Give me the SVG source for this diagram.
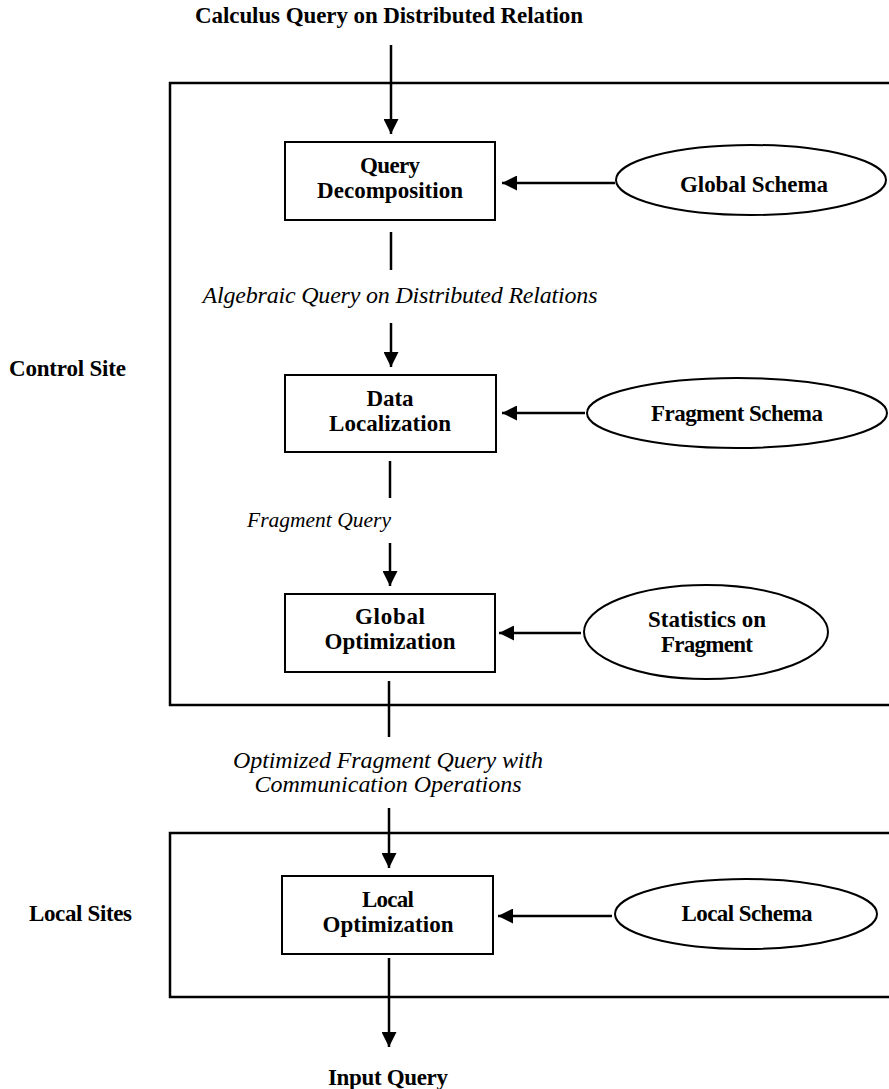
<svg xmlns="http://www.w3.org/2000/svg" width="889" height="1089" viewBox="0 0 889 1089">
<style>
.frame{fill:none;stroke:#000;stroke-width:2.5}
.box{fill:#fff;stroke:#000;stroke-width:2}
.ell{fill:#fff;stroke:#000;stroke-width:2}
.ln{fill:none;stroke:#000;stroke-width:2.5}
.arr{fill:none;stroke:#000;stroke-width:2.5;marker-end:url(#ah)}
text{font-family:"Liberation Serif","Times New Roman",serif;font-size:23px;fill:#000}
.b{font-weight:bold}
.i{font-style:italic;font-size:24px}
.m{text-anchor:middle}
</style>
<defs>
<marker id="ah" markerUnits="userSpaceOnUse" markerWidth="15" markerHeight="15" refX="15" refY="7.5" orient="auto">
<path d="M0,0 L15,7.5 L0,15 z" fill="#000"/>
</marker>
</defs>
<g id="frames">
<rect class="frame" x="170" y="83" width="760" height="622"/>
<rect class="frame" x="170" y="833" width="760" height="164"/>
</g>
<g id="connectors">
<line class="arr" x1="391" y1="45" x2="391" y2="134"/>
<line class="ln" x1="391" y1="232" x2="391" y2="270"/>
<line class="arr" x1="391" y1="323" x2="391" y2="367"/>
<line class="ln" x1="390" y1="461" x2="390" y2="498"/>
<line class="arr" x1="390" y1="543" x2="390" y2="586"/>
<line class="ln" x1="389" y1="681" x2="389" y2="737"/>
<line class="arr" x1="389" y1="808" x2="389" y2="868"/>
<line class="arr" x1="389" y1="958" x2="389" y2="1047"/>
<line class="arr" x1="615" y1="183" x2="502" y2="183"/>
<line class="arr" x1="585" y1="413" x2="502" y2="413"/>
<line class="arr" x1="581" y1="633" x2="499" y2="633"/>
<line class="arr" x1="612" y1="916" x2="498" y2="916"/>
</g>
<g id="labels">
<text class="b m" x="389" y="23" textLength="388">Calculus Query on Distributed Relation</text>
<text class="i m" x="400" y="303" textLength="395">Algebraic Query on Distributed Relations</text>
<text class="i m" x="319" y="527" style="font-size:21.5px">Fragment Query</text>
<text class="i m" x="388" y="768" textLength="310">Optimized Fragment Query with</text>
<text class="i m" x="388" y="792" textLength="267">Communication Operations</text>
<text class="b m" x="388" y="1085" textLength="120">Input Query</text>
<text class="b" x="9" y="376" textLength="117">Control Site</text>
<text class="b" x="29" y="921" textLength="103">Local Sites</text>
</g>
<g id="query-decomposition">
<rect class="box" x="285" y="142" width="210" height="78"/>
<text class="b m" x="390" y="173" textLength="60">Query</text>
<text class="b m" x="390" y="198" textLength="146">Decomposition</text>
</g>
<g id="global-schema">
<ellipse class="ell" cx="751" cy="180" rx="135" ry="35"/>
<text class="b m" x="754" y="192" textLength="148">Global Schema</text>
</g>
<g id="data-localization">
<rect class="box" x="285" y="375" width="211" height="77"/>
<text class="b m" x="390" y="406" textLength="47">Data</text>
<text class="b m" x="390" y="431" textLength="122">Localization</text>
</g>
<g id="fragment-schema">
<ellipse class="ell" cx="737" cy="413" rx="150" ry="35"/>
<text class="b m" x="737" y="421" textLength="172">Fragment Schema</text>
</g>
<g id="global-optimization">
<rect class="box" x="285" y="594" width="210" height="78"/>
<text class="b m" x="390" y="624" textLength="70">Global</text>
<text class="b m" x="390" y="649" textLength="131">Optimization</text>
</g>
<g id="statistics-on-fragment">
<ellipse class="ell" cx="706" cy="632" rx="122" ry="47"/>
<text class="b m" x="707" y="627" textLength="118">Statistics on</text>
<text class="b m" x="707" y="652" textLength="92">Fragment</text>
</g>
<g id="local-optimization">
<rect class="box" x="282" y="876" width="211" height="78"/>
<text class="b m" x="388" y="907" textLength="52">Local</text>
<text class="b m" x="388" y="932" textLength="131">Optimization</text>
</g>
<g id="local-schema">
<ellipse class="ell" cx="746" cy="914" rx="131" ry="35"/>
<text class="b m" x="747" y="921" textLength="131">Local Schema</text>
</g>
</svg>
